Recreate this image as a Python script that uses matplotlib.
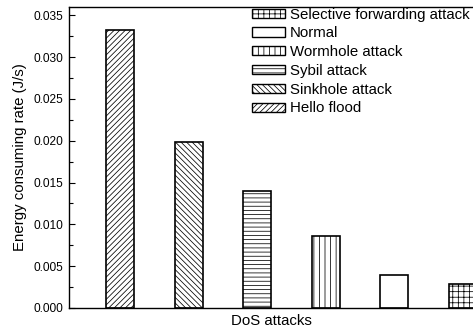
import matplotlib
matplotlib.use("Agg")
import matplotlib.pyplot as plt
from matplotlib.ticker import MultipleLocator

plt.rcParams['font.family'] = ['Liberation Sans', 'DejaVu Sans']
plt.rcParams['hatch.linewidth'] = 0.55

# energy consumption per attack type, in drawing order (left to right)
attacks = ['Hello flood', 'Sinkhole attack', 'Sybil attack',
           'Wormhole attack', 'Normal', 'Selective forwarding attack']
energy_rate = [0.0333, 0.0199, 0.0140, 0.00865, 0.00395, 0.0029]
hatches = ['//////', '\\\\\\\\\\\\', '----', '|||', '', '+++']

fig = plt.figure(figsize=(4.73, 3.35), dpi=100)
ax = fig.add_axes([69 / 473, 27 / 335, 1 - 69 / 473, 301 / 335])

xs = list(range(1, len(attacks) + 1))
bars = []
for x, val, h, name in zip(xs, energy_rate, hatches, attacks):
    b = ax.bar(x, val, width=0.41, color='white', edgecolor='black',
               linewidth=1.2, hatch=h, label=name)
    bars.append(b)

ax.set_xlim(0.255, 6.146)
ax.set_ylim(0, 0.036)
ax.yaxis.set_major_locator(MultipleLocator(0.005))
ax.yaxis.set_minor_locator(MultipleLocator(0.0025))
ax.yaxis.set_major_formatter(matplotlib.ticker.FormatStrFormatter('%.3f'))
ax.tick_params(axis='y', which='major', direction='in', length=4, width=0.8,
               labelsize=8.6, pad=4)
ax.tick_params(axis='y', which='minor', direction='in', length=3, width=0.8)
ax.set_xticks([])
ax.spines['right'].set_visible(False)
for s in ['left', 'top', 'bottom']:
    ax.spines[s].set_linewidth(1.0)

ax.set_ylabel('Energy consuming rate (J/s)', fontsize=10.8, labelpad=5)
ax.set_xlabel('DoS attacks', fontsize=10.8, labelpad=4)

# legend lists the bars right to left
leg = ax.legend(bars[::-1], attacks[::-1], loc='upper left',
                bbox_to_anchor=(252 / 473, (335 - 7.5) / 335),
                bbox_transform=fig.transFigure, frameon=False,
                fontsize=10.8, borderpad=0, borderaxespad=0,
                handlelength=2.2, handleheight=0.55, handletextpad=0.33,
                labelspacing=0.32)
for p in leg.get_patches():
    p.set_linewidth(1.0)

fig.savefig('out.png', dpi=100)
